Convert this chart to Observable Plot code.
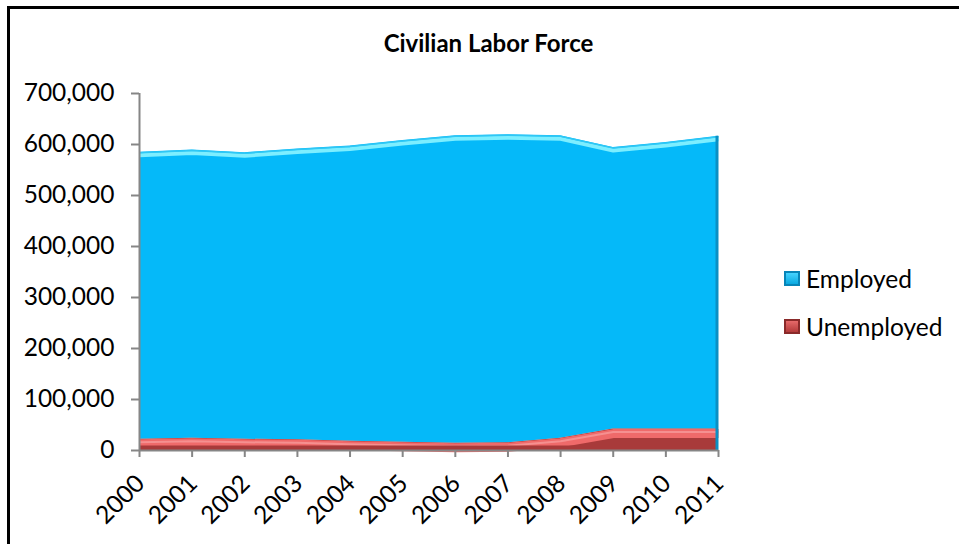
<!DOCTYPE html>
<html>
<head>
<meta charset="utf-8">
<script src="https://cdn.jsdelivr.net/npm/d3@7"></script>
<script src="https://cdn.jsdelivr.net/npm/@observablehq/plot@0.6"></script>
<style>
  html, body { margin: 0; padding: 0; background: #fff; overflow: hidden; }
  #wrap { position: relative; width: 959px; height: 544px; overflow: hidden; font-family: Lato, "Open Sans", sans-serif; }
  #border { position: absolute; left: 7px; top: 6px; width: 952px; height: 538px; border-left: 3px solid #000; border-top: 3px solid #000; box-sizing: border-box; }
  #title { position: absolute; left: 0; width: 977px; top: 28px; text-align: center; font-weight: bold; font-size: 24px; color: #000; }
  .leg { position: absolute; left: 784px; font-size: 24.5px; color: #000; display: flex; align-items: center; }
  .sw { width: 16px; height: 15px; margin-right: 6px; box-sizing: border-box; }
  svg { position: absolute; left: 0; top: 0; }
</style>
</head>
<body>
<div id="wrap">
  <div id="border"></div>
  <div id="chart"></div>
  <div id="title">Civilian Labor Force</div>
  <div class="leg" style="top:264px"><div class="sw" style="background:linear-gradient(#45d3ff,#0aa9e0);border:2px solid #0785b8"></div>Employed</div>
  <div class="leg" style="top:312px"><div class="sw" style="background:linear-gradient(#e66a6a,#b33a3a);border:2px solid #8a2a2a"></div>Unemployed</div>
</div>
<script>
const years = [2000, 2001, 2002, 2003, 2004, 2005, 2006, 2007, 2008, 2009, 2010, 2011];
const unemployed = [22000, 24000, 22000, 21000, 18000, 16000, 14000, 15000, 24000, 42000, 42000, 42000];
const employed = [563000, 565000, 562000, 570000, 579000, 592000, 603000, 604000, 593000, 552000, 562000, 574000];
const yTicks = [0, 100000, 200000, 300000, 400000, 500000, 600000, 700000];

const rows = years.map((year, i) => ({
  year,
  u: unemployed[i],
  total: unemployed[i] + employed[i]
}));

const axisGray = "#868686";

const chart = Plot.plot({
  width: 959,
  height: 544,
  marginLeft: 139,
  marginRight: 241,
  marginTop: 93,
  marginBottom: 94,
  style: { fontFamily: "Lato, 'Open Sans', sans-serif", background: "transparent", overflow: "visible" },
  x: { type: "linear", domain: [2000, 2011] },
  y: { domain: [0, 700000] },
  marks: [
    // Employed (stacked on unemployed)
    Plot.areaY(rows, { x: "year", y1: "u", y2: "total", fill: "#05b9f9" }),
    Plot.lineY(rows, { x: "year", y: "total", stroke: "#7deeff", strokeWidth: 4, dy: 3, strokeLinecap: "butt" }),
    Plot.lineY(rows, { x: "year", y: "total", stroke: "#2fc8f5", strokeWidth: 1.5, dy: 0.5, strokeLinecap: "butt" }),
    // Unemployed
    Plot.areaY(rows, { x: "year", y1: 0, y2: "u", fill: "#a83a3a" }),
    Plot.lineY(rows, { x: "year", y: "u", stroke: "#ef6a6a", strokeWidth: 9, dy: 4.5, strokeLinecap: "butt", strokeLinejoin: "round" }),
    Plot.lineY(rows, { x: "year", y: "u", stroke: "#f59090", strokeWidth: 2, dy: 3, strokeLinecap: "butt" }),
    Plot.areaY(rows, { x: "year", y1: 0, y2: d => Math.min(d.u, 9000), fill: "#a83a3a" }),
    // right edge shading
    Plot.ruleX([2011], { y1: 0, y2: rows[rows.length - 1].total, stroke: "#0a8fc4", strokeWidth: 3, dx: -1.5 }),
    // axis lines
    Plot.ruleX([2000], { y1: 0, y2: 700000, stroke: axisGray, strokeWidth: 2 }),
    Plot.ruleY([0], { x1: 2000, x2: 2011, stroke: axisGray, strokeWidth: 2 }),
    Plot.axisY({
      ticks: yTicks,
      tickFormat: d3.format(","),
      tickSize: 8,
      tickPadding: 17,
      fontSize: 24.5,
      stroke: axisGray,
      strokeWidth: 2,
      fill: "#000",
      label: null
    }),
    // x tick marks
    Plot.axisX({
      ticks: years,
      tickFormat: () => "",
      tickSize: 7,
      stroke: axisGray,
      strokeWidth: 2,
      label: null
    }),
    // x tick labels (rotated)
    Plot.axisX({
      ticks: years,
      tickFormat: d => String(d),
      tickSize: 0,
      tickPadding: 11,
      tickRotate: -45,
      fontSize: 24.5,
      fill: "#000",
      dx: 1,
      dy: 18,
      label: null
    })
  ]
});
document.getElementById("chart").appendChild(chart);
</script>
</body>
</html>
